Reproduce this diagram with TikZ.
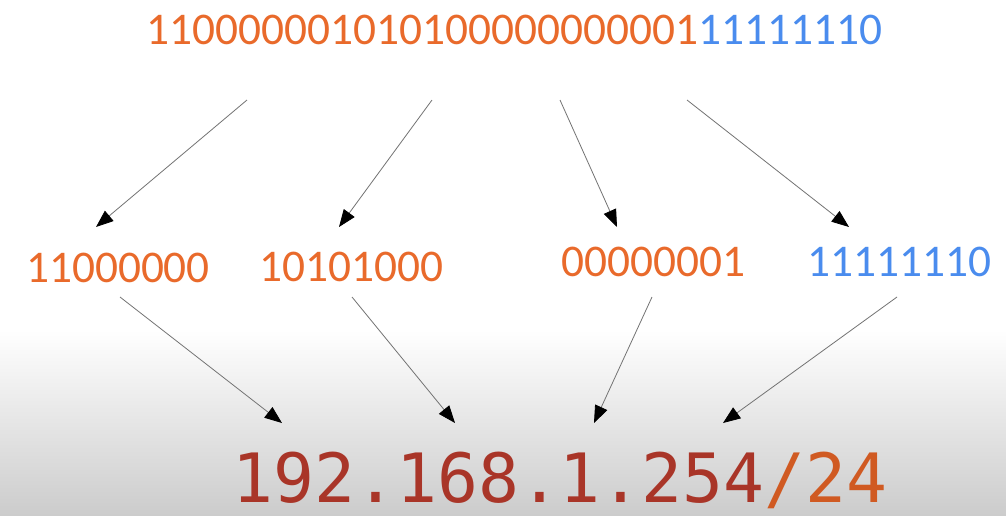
\documentclass[tikz,border=0pt]{standalone}
\usepackage{fontspec}
\setmainfont{Carlito}
\newfontfamily\ipfont{DejaVu Sans Mono}
\usepackage{tikz}
\usetikzlibrary{arrows.meta,positioning}
\definecolor{bitorange}{HTML}{E96A2B}
\definecolor{bitblue}{HTML}{4A8CEE}
\definecolor{ipred}{HTML}{A93528}
\definecolor{maskorange}{HTML}{D05A22}

\begin{document}
\begin{tikzpicture}[
  x=0.75pt, y=-0.75pt,
  >={Triangle[length=13pt, width=10pt, color=black]},
  bits/.style={inner sep=0pt, font=\fontsize{34}{40}\selectfont},
  ip/.style={inner sep=0pt, font=\ipfont\fontsize{51}{60}\selectfont},
  arrow/.style={->, line width=0.6pt, draw=black!55}
]

\useasboundingbox (0,0) rectangle (1006,515);
\fill[white] (0,0) rectangle (1006,515);
\shade[top color=white, bottom color=black!20] (0,330) rectangle (1006,515);

\node[bits] (allbits) at (514.5,30) {\textcolor{bitorange}{110000001010100000000001}\textcolor{bitblue}{11111110}};

\node[bits, text=bitorange] (oct1) at (118,268) {11000000};
\node[bits, text=bitorange] (oct2) at (351.5,266.5) {10101000};
\node[bits, text=bitorange] (oct3) at (653.5,262) {00000001};
\node[bits, text=bitblue] (oct4) at (899.5,262) {11111110};

\node[ip] (ipaddr) at (560,480) {\textcolor{ipred}{192.168.1.254}\textcolor{maskorange}{/24}};

\coordinate (a1) at (247,100);
\coordinate (b1) at (96,227);
\coordinate (a2) at (432,100);
\coordinate (b2) at (339,227);
\coordinate (a3) at (560,100);
\coordinate (b3) at (617,227);
\coordinate (a4) at (687,100);
\coordinate (b4) at (849,227);

\coordinate (c1) at (120,297);
\coordinate (d1) at (282,423);
\coordinate (c2) at (352,297);
\coordinate (d2) at (455,423);
\coordinate (c3) at (652,297);
\coordinate (d3) at (594,423);
\coordinate (c4) at (897,297);
\coordinate (d4) at (723,423);

\draw[arrow] (a1) -- (b1);
\draw[arrow] (a2) -- (b2);
\draw[arrow] (a3) -- (b3);
\draw[arrow] (a4) -- (b4);
\draw[arrow] (c1) -- (d1);
\draw[arrow] (c2) -- (d2);
\draw[arrow] (c3) -- (d3);
\draw[arrow] (c4) -- (d4);

\end{tikzpicture}
\end{document}
